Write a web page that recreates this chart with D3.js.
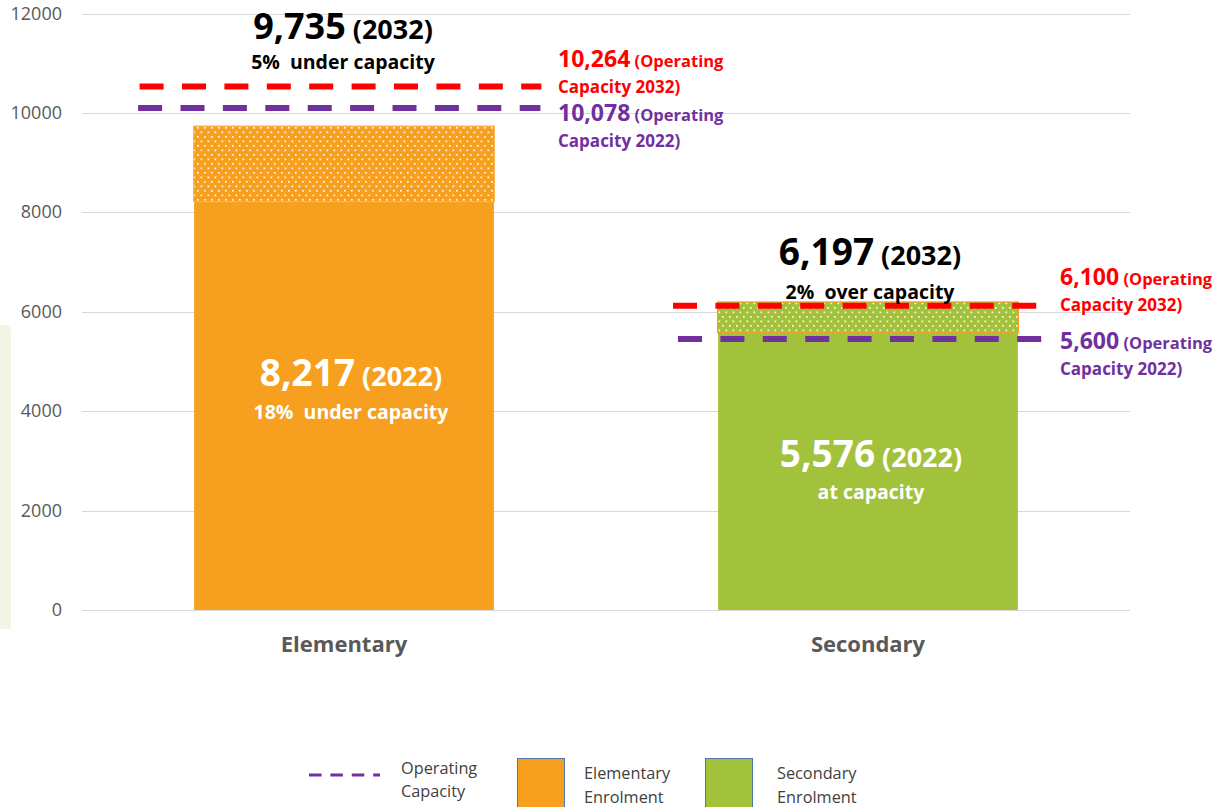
<!DOCTYPE html>
<html>
<head>
<meta charset="utf-8">
<script src="https://cdn.jsdelivr.net/npm/d3@7"></script>
<style>
  body { margin: 0; background: #fff; }
  svg { display: block; font-family: "Open Sans", Lato, sans-serif; }
  text { white-space: pre; }
</style>
</head>
<body>
<svg id="chart" width="1217" height="807"></svg>
<script>
var categories = ['Elementary', 'Secondary']
var enrol2022 = [8217, 5576]
var enrol2032 = [9735, 6197]
var capacity2022 = [10078, 5600]
var capacity2032 = [10264, 6100]
// the dashed capacity lines are not quite at their labelled values in the picture
var capLine2032 = [10530, 6120]
var capLine2022 = [10100, 5450]
var status2022 = ['18%  under capacity', 'at capacity']
var status2032 = ['5%  under capacity', '2%  over capacity']
var yTicks = [0, 2000, 4000, 6000, 8000, 10000, 12000]

var orange = '#f79f1f',
  green = '#a1c23a',
  red = '#ff0000',
  purple = '#7030a0',
  grey = '#595959'

var svg = d3.select('#chart')
var defs = svg.append('defs')

function dots(id, bg) {
  var p = defs.append('pattern')
    .attr('id', id)
    .attr('patternUnits', 'userSpaceOnUse')
    .attr('width', 7)
    .attr('height', 9)
  p.append('rect').attr('width', 7).attr('height', 9).attr('fill', bg)
  p.append('rect').attr('x', 1).attr('y', 1).attr('width', 1.7).attr('height', 1.7).attr('fill', '#fff').attr('opacity', 0.9)
  p.append('rect').attr('x', 4.5).attr('y', 5.5).attr('width', 1.7).attr('height', 1.7).attr('fill', '#fff').attr('opacity', 0.9)
}
dots('dotsOrange', orange)
dots('dotsGreen', green)

// faint panel peeking in at the left edge
svg.append('path')
  .attr('d', 'M0,325 L5,325 Q11,325 11,331 L11,629 L0,629 Z')
  .attr('fill', '#f3f6e7')

var x = d3.scaleBand().domain(categories).range([82, 1130]).padding(0)
var y = d3.scaleLinear().domain([0, 12000]).range([610, 13.5])
var barW = x.bandwidth() * 0.574

// grid + tick labels
svg.append('g')
  .selectAll('line')
  .data(yTicks)
  .enter()
  .append('line')
  .attr('x1', 82)
  .attr('x2', 1130)
  .attr('y1', d => Math.round(y(d)) + 0.5)
  .attr('y2', d => Math.round(y(d)) + 0.5)
  .attr('stroke', '#d9d9d9')
  .attr('stroke-width', 1)

svg.append('g')
  .selectAll('text')
  .data(yTicks)
  .enter()
  .append('text')
  .attr('x', 62)
  .attr('y', d => y(d) + 6)
  .attr('text-anchor', 'end')
  .attr('font-size', 18)
  .attr('fill', grey)
  .text(d => d)

var cx = c => x(c) + x.bandwidth() / 2

// bars: solid 2022 enrolment, dotted growth to 2032
var bars = svg.append('g')
categories.forEach(function(c, i) {
  var x0 = cx(c) - barW / 2
  bars.append('rect')
    .attr('x', x0 + 0.5)
    .attr('width', barW - 1)
    .attr('y', y(enrol2022[i]))
    .attr('height', y(0) - y(enrol2022[i]))
    .attr('fill', i ? green : orange)
  bars.append('rect')
    .attr('x', x0)
    .attr('width', barW)
    .attr('y', y(enrol2032[i]))
    .attr('height', y(enrol2022[i]) - y(enrol2032[i]))
    .attr('fill', i ? 'url(#dotsGreen)' : 'url(#dotsOrange)')
    .attr('stroke', i ? orange : '#f9b650')
    .attr('stroke-width', 1.2)
})

// dashed operating-capacity lines; offsets are how far each runs past the bar edges
var lineExt = [
  { l2032: [-54, 47], l2022: [-55.5, 46] },
  { l2032: [-44.6, 20.4], l2022: [-39.6, 26] }
]
var capLines = svg.append('g')
categories.forEach(function(c, i) {
  var x0 = cx(c) - barW / 2,
    x1 = x0 + barW
  ;[
    [capLine2032[i], red, lineExt[i].l2032],
    [capLine2022[i], purple, lineExt[i].l2022]
  ].forEach(function(l) {
    capLines.append('line')
      .attr('x1', x0 + l[2][0])
      .attr('x2', x1 + l[2][1])
      .attr('y1', y(l[0]))
      .attr('y2', y(l[0]))
      .attr('stroke', l[1])
      .attr('stroke-width', 6)
      .attr('stroke-dasharray', '24 18.4')
  })
})

var fmt = d3.format(',')

// value annotations
function valueLabel(cxp, base, big, small, sub, color, subGap, bigSize) {
  var t = svg.append('text')
    .attr('x', cxp)
    .attr('y', base)
    .attr('text-anchor', 'middle')
    .attr('font-weight', 700)
    .attr('fill', color)
  t.append('tspan').attr('font-size', bigSize).text(big)
  t.append('tspan').attr('font-size', 27).text(' ' + small)
  svg.append('text')
    .attr('x', cxp)
    .attr('y', base + subGap)
    .attr('text-anchor', 'middle')
    .attr('font-weight', 700)
    .attr('font-size', 19.5)
    .attr('fill', color)
    .text(sub)
}

var annot = [
  { top: [343, 38.5, 30, 36], bottom: [351, 386, 33, 37] },
  { top: [870, 265, 34, 37], bottom: [871, 467, 32, 37] }
]
categories.forEach(function(c, i) {
  var a = annot[i]
  valueLabel(a.top[0], a.top[1], fmt(enrol2032[i]), '(2032)', status2032[i], '#000', a.top[2], a.top[3])
  valueLabel(a.bottom[0], a.bottom[1], fmt(enrol2022[i]), '(2022)', status2022[i], '#fff', a.bottom[2], a.bottom[3])
})

// capacity labels on the right of each bar
var capLabelPos = [
  { x: 558, y: [67, 93, 121, 147] },
  { x: 1060, y: [285, 311, 349, 375] }
]
categories.forEach(function(c, i) {
  var p = capLabelPos[i]
  ;[
    [capacity2032[i], '2032', red, p.y[0], p.y[1]],
    [capacity2022[i], '2022', purple, p.y[2], p.y[3]]
  ].forEach(function(l) {
    var t = svg.append('text')
      .attr('x', p.x)
      .attr('y', l[3])
      .attr('font-weight', 700)
      .attr('fill', l[2])
    t.append('tspan').attr('font-size', 23).text(fmt(l[0]))
    t.append('tspan').attr('font-size', 16.5).text(' (Operating')
    svg.append('text')
      .attr('x', p.x)
      .attr('y', l[4])
      .attr('font-weight', 700)
      .attr('font-size', 17)
      .attr('fill', l[2])
      .text('Capacity ' + l[1] + ')')
  })
})

// category axis labels
svg.append('g')
  .selectAll('text')
  .data(categories)
  .enter()
  .append('text')
  .attr('x', d => cx(d))
  .attr('y', 652)
  .attr('text-anchor', 'middle')
  .attr('font-size', 22)
  .attr('font-weight', 700)
  .attr('fill', grey)
  .text(d => d)

// legend
var leg = svg.append('g').attr('font-size', 16.3).attr('fill', '#404040')
leg.append('line')
  .attr('x1', 309)
  .attr('x2', 380)
  .attr('y1', 775)
  .attr('y2', 775)
  .attr('stroke', purple)
  .attr('stroke-width', 3)
  .attr('stroke-dasharray', '12.5 8.9')
leg.append('text').attr('x', 401).attr('y', 774).text('Operating')
leg.append('text').attr('x', 401).attr('y', 797).text('Capacity')

;[
  [517, orange, 584, 'Elementary'],
  [705, green, 777, 'Secondary']
].forEach(function(d) {
  leg.append('rect')
    .attr('x', d[0] + 0.5)
    .attr('y', 758.5)
    .attr('width', 47)
    .attr('height', 60)
    .attr('fill', d[1])
    .attr('stroke', '#4f76b0')
    .attr('stroke-width', 1)
  leg.append('text').attr('x', d[2]).attr('y', 779).text(d[3])
  leg.append('text').attr('x', d[2]).attr('y', 803).text('Enrolment')
})
</script>
</body>
</html>
